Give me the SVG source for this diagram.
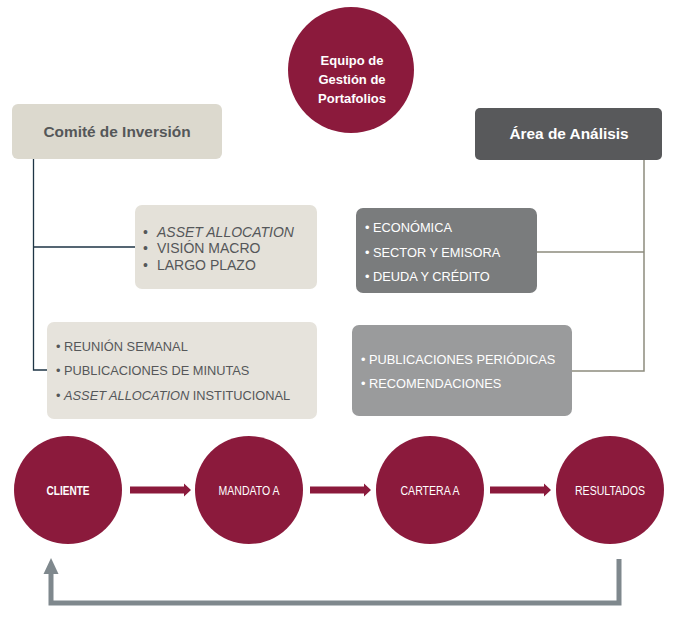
<svg xmlns="http://www.w3.org/2000/svg" width="690" height="628" viewBox="0 0 690 628">
<style>
.t{font-family:"Liberation Sans",Arial,sans-serif}
.h{font-weight:bold;font-size:15.4px;text-anchor:middle}
.dark{fill:#555759}
.wh{fill:#ffffff}
.b14{font-size:14px}
.b13{font-size:12.8px}
.c{font-size:12px;text-anchor:middle;fill:#fff}
.mar{fill:#8b1a3c}
</style>
<rect width="690" height="628" fill="#ffffff"/>
<g id="connectors">
  <path d="M33.5 159 V370 H47 M33.5 247 H135" fill="none" stroke="#1e3545" stroke-width="1.3"/>
  <path d="M644 160 V371 H572 M644 252 H537" fill="none" stroke="#8d8c7e" stroke-width="1.5"/>
  <polygon class="mar" points="130,486.5 184,486.5 184,483.5 191,490 184,496.5 184,493.5 130,493.5"/>
  <polygon class="mar" points="310,486.5 364,486.5 364,483.5 371,490 364,496.5 364,493.5 310,493.5"/>
  <polygon class="mar" points="490,486.5 544,486.5 544,483.5 551,490 544,496.5 544,493.5 490,493.5"/>
  <path d="M619 559 V603 H51 V573" fill="none" stroke="#7f888d" stroke-width="5"/>
  <polygon points="43.5,574 58.5,574 51,558" fill="#7f888d"/>
</g>
<g id="equipo">
  <circle cx="351" cy="70" r="63" class="mar"/>
  <text class="t wh" font-weight="bold" font-size="13" text-anchor="middle"><tspan x="352" y="65">Equipo de</tspan><tspan x="352" y="84">Gestión de</tspan><tspan x="352" y="103">Portafolios</tspan></text>
</g>
<g id="comite">
  <rect x="12" y="104" width="210" height="55" rx="6" fill="#dcd9ce"/>
  <text class="t h dark" x="117" y="137">Comité de Inversión</text>
</g>
<g id="analisis">
  <rect x="475" y="108" width="187" height="52" rx="5" fill="#58595b"/>
  <text class="t h wh" x="569" y="139">Área de Análisis</text>
</g>
<g id="asset">
  <rect x="135" y="205" width="182" height="84" rx="7" fill="#e4e1d9"/>
  <text class="t b14 dark"><tspan x="143" y="237">•</tspan><tspan x="157" y="237" font-style="italic">ASSET ALLOCATION</tspan></text>
  <text class="t b14 dark"><tspan x="143" y="253">•</tspan><tspan x="157" y="253">VISIÓN MACRO</tspan></text>
  <text class="t b14 dark"><tspan x="143" y="270">•</tspan><tspan x="157" y="270">LARGO PLAZO</tspan></text>
</g>
<g id="reunion">
  <rect x="47" y="322" width="270" height="97" rx="7" fill="#e6e3dc"/>
  <text class="t b13 dark" x="56" y="351">• REUNIÓN SEMANAL</text>
  <text class="t b13 dark" x="56" y="375">• PUBLICACIONES DE MINUTAS</text>
  <text class="t b13 dark" x="56" y="400">• <tspan font-style="italic">ASSET ALLOCATION</tspan> INSTITUCIONAL</text>
</g>
<g id="economica">
  <rect x="356" y="208" width="181" height="85" rx="7" fill="#7a7c7d"/>
  <text class="t b13 wh" x="365" y="232">• ECONÓMICA</text>
  <text class="t b13 wh" x="365" y="257">• SECTOR Y EMISORA</text>
  <text class="t b13 wh" x="365" y="281">• DEUDA Y CRÉDITO</text>
</g>
<g id="publicaciones">
  <rect x="352" y="325" width="220" height="91" rx="7" fill="#9a9b9c"/>
  <text class="t b13 wh" x="361" y="364">• PUBLICACIONES PERIÓDICAS</text>
  <text class="t b13 wh" x="361" y="388">• RECOMENDACIONES</text>
</g>
<g id="cliente">
  <circle cx="68" cy="490" r="54" class="mar"/>
  <text class="t c" x="68" y="495" font-weight="bold" textLength="43" lengthAdjust="spacingAndGlyphs">CLIENTE</text>
</g>
<g id="mandato">
  <circle cx="249" cy="490" r="54" class="mar"/>
  <text class="t c" x="249" y="495" textLength="61" lengthAdjust="spacingAndGlyphs">MANDATO A</text>
</g>
<g id="cartera">
  <circle cx="430" cy="490" r="54" class="mar"/>
  <text class="t c" x="430" y="495" textLength="59" lengthAdjust="spacingAndGlyphs">CARTERA A</text>
</g>
<g id="resultados">
  <circle cx="610" cy="490" r="54" class="mar"/>
  <text class="t c" x="610" y="495" textLength="70" lengthAdjust="spacingAndGlyphs">RESULTADOS</text>
</g>
</svg>
